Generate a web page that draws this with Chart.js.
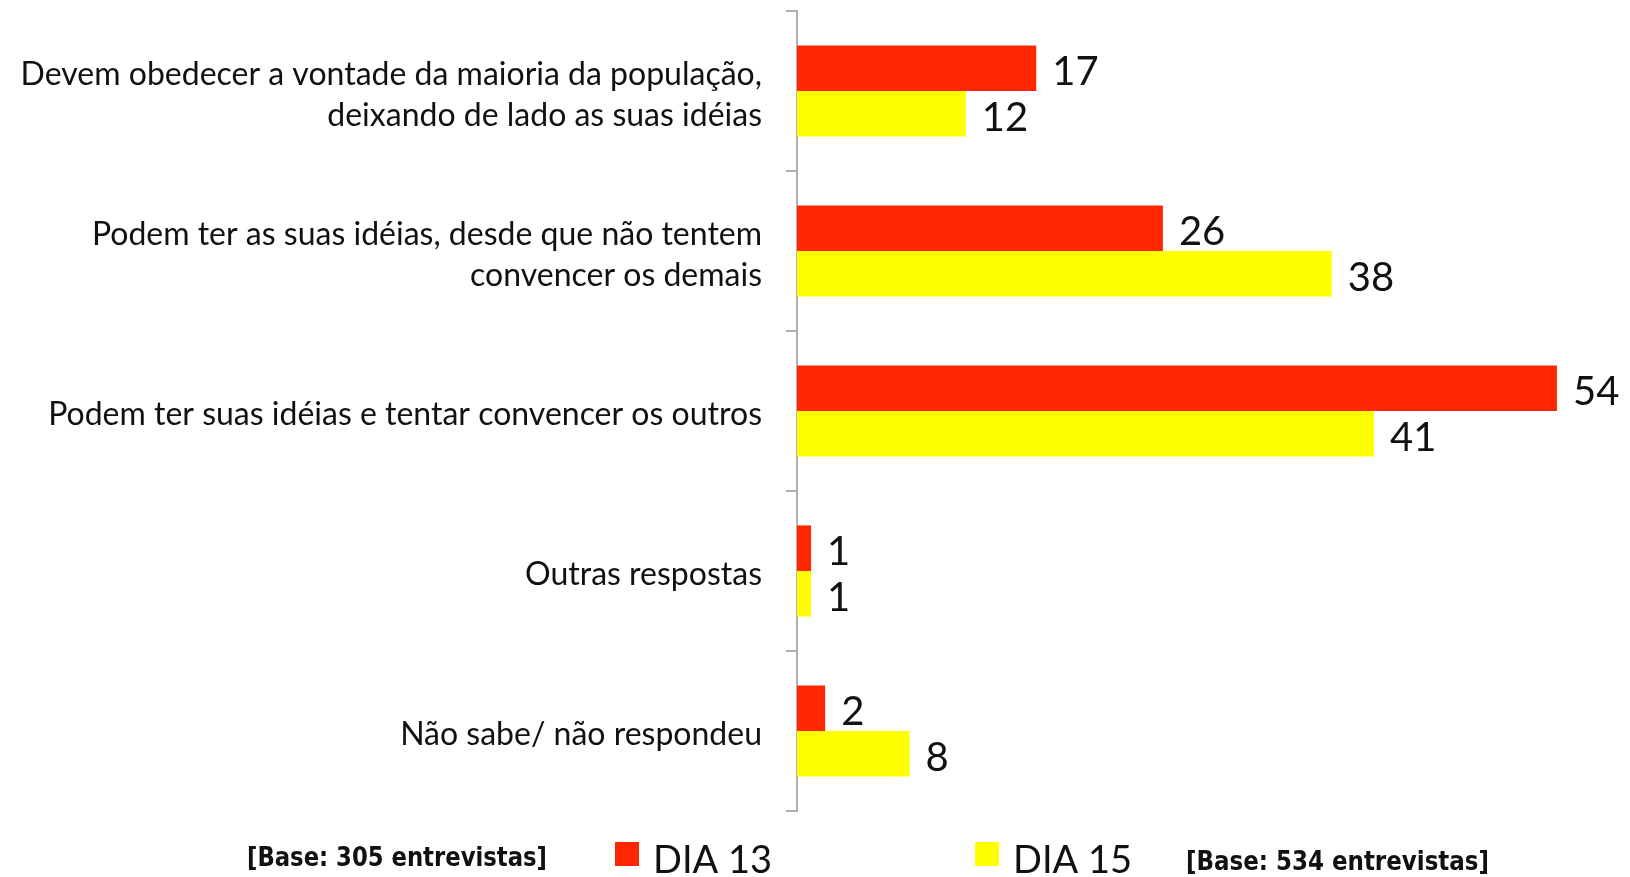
<!DOCTYPE html>
<html>
<head>
<meta charset="utf-8">
<script src="https://cdn.jsdelivr.net/npm/chart.js@4.4.1/dist/chart.umd.min.js"></script>
<style>
  html, body { margin: 0; padding: 0; background: #ffffff; }
  #wrap { width: 1630px; height: 877px; position: relative; }
</style>
</head>
<body>
<div id="wrap"><canvas id="c" width="1630" height="877"></canvas></div>
<script>
const categories = [
  ["Devem obedecer a vontade da maioria da população,", "deixando de lado as suas idéias"],
  ["Podem ter as suas idéias, desde que não tentem", "convencer os demais"],
  ["Podem ter suas idéias e tentar convencer os outros"],
  ["Outras respostas"],
  ["Não sabe/ não respondeu"]
];
const dia13 = [17, 26, 54, 1, 2];
const dia15 = [12, 38, 41, 1, 8];
const seriesNames = ["DIA 13", "DIA 15"];
const baseNotes = ["[Base: 305 entrevistas]", "[Base: 534 entrevistas]"];

const RED = '#ff2600';
const YELLOW = '#ffff00';
const FONT = 'Lato, "Open Sans", sans-serif';

const valueLabels = {
  id: 'valueLabels',
  afterDatasetsDraw(chart) {
    const ctx = chart.ctx;
    ctx.save();
    ctx.font = '40px ' + FONT;
    ctx.fillStyle = '#111111';
    ctx.textBaseline = 'middle';
    ctx.textAlign = 'left';
    chart.data.datasets.forEach((ds, i) => {
      const meta = chart.getDatasetMeta(i);
      meta.data.forEach((bar, j) => {
        ctx.fillText(String(ds.data[j]), bar.x + 16, bar.y + 4);
      });
    });
    ctx.restore();
  }
};

const bottomLegend = {
  id: 'bottomLegend',
  afterDraw(chart) {
    const ctx = chart.ctx;
    ctx.save();
    ctx.font = 'bold 27px "DejaVu Sans Condensed", "DejaVu Sans", sans-serif';
    ctx.fillStyle = '#111111';
    ctx.textBaseline = 'alphabetic';
    ctx.textAlign = 'left';
    const drawFit = (txt, x, y, w) => {
      const m = ctx.measureText(txt).width;
      ctx.save();
      ctx.translate(x, y);
      ctx.scale(w / m, 1);
      ctx.fillText(txt, 0, 0);
      ctx.restore();
    };
    drawFit(baseNotes[0], 247, 866, 300);
    drawFit(baseNotes[1], 1186, 870, 303);
    const items = [
      { sx: 615, tx: 653, color: RED },
      { sx: 975, tx: 1013, color: YELLOW }
    ];
    ctx.font = '38px ' + FONT;
    items.forEach((it, i) => {
      ctx.fillStyle = it.color;
      ctx.fillRect(it.sx, 842, 24, 24);
      ctx.fillStyle = '#111111';
      ctx.fillText(seriesNames[i], it.tx, 873);
    });
    ctx.restore();
  }
};

new Chart(document.getElementById('c'), {
  type: 'bar',
  data: {
    labels: categories,
    datasets: [
      { label: seriesNames[0], data: dia13, backgroundColor: RED, borderWidth: 0 },
      { label: seriesNames[1], data: dia15, backgroundColor: YELLOW, borderWidth: 0 }
    ]
  },
  options: {
    indexAxis: 'y',
    responsive: false,
    animation: false,
    devicePixelRatio: 1,
    layout: { padding: { left: 0, right: 59, top: 11, bottom: 66 } },
    datasets: { bar: { categoryPercentage: 0.57, barPercentage: 1.0 } },
    plugins: {
      legend: { display: false },
      tooltip: { enabled: false }
    },
    scales: {
      x: {
        display: false,
        min: 0,
        max: 55
      },
      y: {
        afterFit(scale) {
          scale.width = 797;
          scale.paddingTop = 0;
          scale.paddingBottom = 0;
        },
        grid: {
          offset: true,
          drawOnChartArea: false,
          drawTicks: true,
          tickLength: 11,
          color: '#b0b0b0',
          lineWidth: 2
        },
        border: { display: true, color: '#b0b0b0', width: 2 },
        ticks: {
          padding: 24,
          labelOffset: 4,
          color: '#111111',
          font: { family: FONT, size: 32, lineHeight: 1.28 }
        }
      }
    }
  },
  plugins: [valueLabels, bottomLegend]
});
</script>
</body>
</html>
